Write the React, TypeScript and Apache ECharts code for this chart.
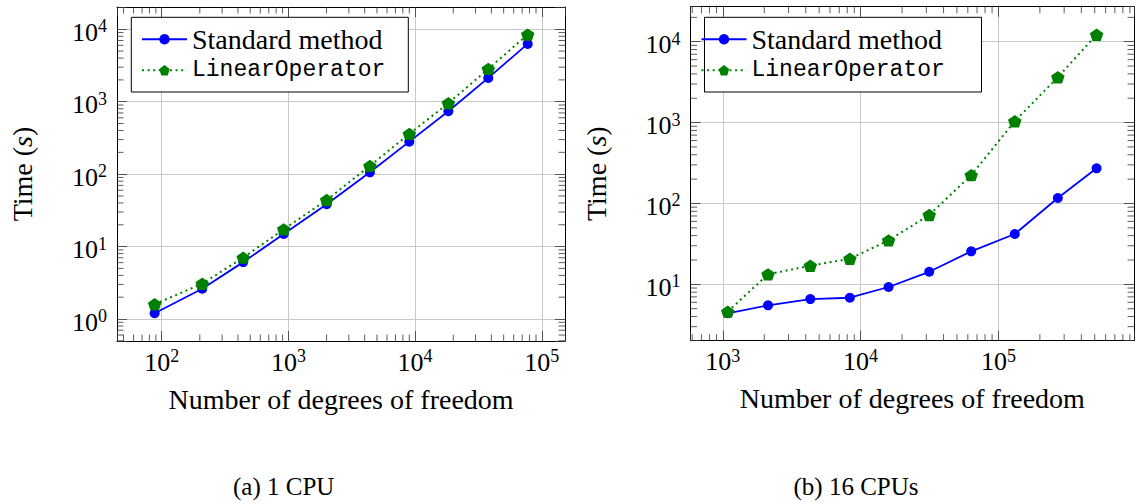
import React, { useEffect, useRef } from 'react';
import * as echarts from 'echarts';

// ---- data ----
const dofCpu1 = [88, 209, 440, 918, 2005, 4400, 9000, 18300, 37800, 77400];
const standardCpu1 = [1.2, 2.62, 6.1, 14.9, 38.4, 106, 281, 739, 2133, 6280];
const linopCpu1 = [1.6, 3.07, 7.03, 17.3, 44, 130, 359, 953, 2838, 8450];

const dofCpu16 = [1086, 2130, 4316, 8360, 15960, 31480, 63500, 131500, 270000, 516000];
const standardCpu16 = [4.39, 5.5, 6.58, 6.83, 9.27, 14.3, 25.6, 41.9, 116.7, 272];
const linopCpu16 = [4.6, 13.3, 17, 20.7, 35, 72, 224, 1040, 3640, 12200];

const xRangeCpu1 = [44.4, 152400];
const yRangeCpu1 = [0.497, 20300];
const xRangeCpu16 = [583, 964000];
const yRangeCpu16 = [2.01, 27100];

const seriesNames = ['Standard method', 'LinearOperator'];
const captions = ['(a) 1 CPU', '(b) 16 CPUs'];
const xAxisName = 'Number of degrees of freedom';
const yAxisName = 'Time ({i|s})';

const SERIF = 'Liberation Serif';
const MONO = 'Liberation Mono';
const BLUE = '#0000ff';
const GREEN = '#008000';
const PENTAGON = 'path://M0,-1L0.951,-0.309L0.588,0.809L-0.588,0.809L-0.951,-0.309Z';

function minorValues(range: number[]): number[] {
  const out: number[] = [];
  const k0 = Math.floor(Math.log10(range[0]));
  const k1 = Math.ceil(Math.log10(range[1]));
  for (let k = k0; k <= k1; k++) {
    for (let m = 2; m <= 9; m++) {
      const v = m * Math.pow(10, k);
      if (v > range[0] && v < range[1]) out.push(v);
    }
  }
  return out;
}

function powLabel(v: number): string {
  const e = Math.log10(v);
  const r = Math.round(e);
  if (Math.abs(e - r) > 1e-6) return '';
  return `{b|10}{s|${r}}`;
}

const labelRich = {
  b: { fontFamily: SERIF, fontSize: 26, color: '#000', lineHeight: 30, verticalAlign: 'middle' },
  s: { fontFamily: SERIF, fontSize: 18, color: '#000', lineHeight: 18, verticalAlign: 'top' },
};

const tickStyle = { color: '#333', width: 0.8 };
const MAJOR = 10;
const MINOR = 6.5;

function axesFor(gridIndex: number, xr: number[], yr: number[]) {
  const xBottom = {
    type: 'log', gridIndex, min: xr[0], max: xr[1], position: 'bottom',
    axisLine: { show: true, lineStyle: { color: '#000', width: 1 } },
    axisTick: { show: true, inside: true, length: MAJOR, lineStyle: tickStyle },
    axisLabel: { formatter: powLabel, rich: labelRich, margin: 6, showMinLabel: true, showMaxLabel: true },
    splitLine: { show: true, lineStyle: { color: '#c8c8c8', width: 1 } },
    name: xAxisName, nameLocation: 'middle', nameGap: 58,
    nameTextStyle: { fontFamily: SERIF, fontSize: 28, color: '#000', verticalAlign: 'middle' },
  };
  const xTop = {
    type: 'log', gridIndex, min: xr[0], max: xr[1], position: 'top',
    axisLine: { show: true, lineStyle: { color: '#000', width: 1 } },
    axisTick: { show: true, inside: true, length: MAJOR, lineStyle: tickStyle },
    axisLabel: { show: false }, splitLine: { show: false },
  };
  const yLeft = {
    type: 'log', gridIndex, min: yr[0], max: yr[1], position: 'left',
    axisLine: { show: true, lineStyle: { color: '#000', width: 1 } },
    axisTick: { show: true, inside: true, length: MAJOR, lineStyle: tickStyle },
    axisLabel: { formatter: powLabel, rich: labelRich, margin: 10, padding: [6, 0, 0, 0] },
    splitLine: { show: true, lineStyle: { color: '#c8c8c8', width: 1 } },
    name: yAxisName, nameLocation: 'middle', nameGap: 94.5, nameRotate: 90,
    nameTextStyle: {
      fontFamily: SERIF, fontSize: 28, color: '#000', verticalAlign: 'middle',
      rich: { i: { fontFamily: SERIF, fontSize: 28, fontStyle: 'italic', color: '#000' } },
    },
  };
  const yRight = {
    type: 'log', gridIndex, min: yr[0], max: yr[1], position: 'right',
    axisLine: { show: true, lineStyle: { color: '#000', width: 1 } },
    axisTick: { show: true, inside: true, length: MAJOR, lineStyle: tickStyle },
    axisLabel: { show: false }, splitLine: { show: false },
  };
  return { x: [xBottom, xTop], y: [yLeft, yRight] };
}

function minorTickSeries(axisIndex: number, xr: number[], yr: number[]) {
  const data: number[][] = [];
  minorValues(xr).forEach((v) => data.push([v, yr[0], 0]));
  minorValues(yr).forEach((v) => data.push([xr[0], v, 1]));
  return {
    type: 'custom', xAxisIndex: axisIndex, yAxisIndex: axisIndex, silent: true, z: 3, clip: false,
    dimensions: ['x', 'y', 'k'], encode: { x: 0, y: 1 },
    data,
    renderItem: (_p: any, api: any) => {
      const k = api.value(2);
      const ls = { stroke: tickStyle.color, lineWidth: tickStyle.width };
      if (k === 0) {
        const v = api.value(0);
        const a = api.coord([v, yr[0]]);
        const b = api.coord([v, yr[1]]);
        return {
          type: 'group', children: [
            { type: 'line', shape: { x1: a[0], y1: a[1], x2: a[0], y2: a[1] - MINOR }, style: ls },
            { type: 'line', shape: { x1: b[0], y1: b[1], x2: b[0], y2: b[1] + MINOR }, style: ls },
          ],
        };
      }
      const v = api.value(1);
      const a = api.coord([xr[0], v]);
      const b = api.coord([xr[1], v]);
      return {
        type: 'group', children: [
          { type: 'line', shape: { x1: a[0], y1: a[1], x2: a[0] + MINOR, y2: a[1] }, style: ls },
          { type: 'line', shape: { x1: b[0], y1: b[1], x2: b[0] - MINOR, y2: b[1] }, style: ls },
        ],
      };
    },
  };
}

function lineSeries(axisIndex: number, xs: number[], std: number[], lin: number[]) {
  return [
    {
      type: 'line', name: seriesNames[0], xAxisIndex: axisIndex, yAxisIndex: axisIndex,
      data: xs.map((x, i) => [x, std[i]]),
      symbol: 'circle', symbolSize: 10,
      lineStyle: { color: BLUE, width: 1.8 }, itemStyle: { color: BLUE }, z: 4,
    },
    {
      type: 'line', name: seriesNames[1], xAxisIndex: axisIndex, yAxisIndex: axisIndex,
      data: xs.map((x, i) => [x, lin[i]]),
      symbol: PENTAGON, symbolKeepAspect: true, symbolSize: [13.5, 13],
      lineStyle: { color: GREEN, width: 2, type: [2, 3.6] }, itemStyle: { color: GREEN }, z: 5,
    },
  ];
}

function legendFor(left: number, top: number) {
  return {
    orient: 'vertical', left, top, padding: 0, itemGap: 0, itemWidth: 45, itemHeight: 13,
    selectedMode: false, z: 10,
    data: [
      { name: seriesNames[0], textStyle: { fontFamily: SERIF, fontSize: 28, lineHeight: 31, color: '#000' } },
      { name: seriesNames[1], textStyle: { fontFamily: MONO, fontSize: 23, lineHeight: 31, color: '#000' } },
    ],
  };
}

export default function App() {
  const ref = useRef<HTMLDivElement>(null);
  useEffect(() => {
    if (!ref.current) return;
    const chart = echarts.init(ref.current, undefined, { renderer: 'svg' });
    const a1 = axesFor(0, xRangeCpu1, yRangeCpu1);
    const a2 = axesFor(1, xRangeCpu16, yRangeCpu16);
    const option: any = {
      animation: false,
      backgroundColor: '#fff',
      textStyle: { fontFamily: SERIF },
      grid: [
        { left: 117, top: 7, width: 448, height: 334 },
        { left: 690.5, top: 6.7, width: 448, height: 334 },
      ],
      xAxis: [...a1.x, ...a2.x],
      yAxis: [...a1.y, ...a2.y],
      legend: [legendFor(141, 23.8), legendFor(700.5, 23.8)],
      series: [
        minorTickSeries(0, xRangeCpu1, yRangeCpu1),
        ...lineSeries(0, dofCpu1, standardCpu1, linopCpu1),
        minorTickSeries(2, xRangeCpu16, yRangeCpu16),
        ...lineSeries(2, dofCpu16, standardCpu16, linopCpu16),
      ],
      graphic: [
        { type: 'rect', z: 8, shape: { x: 131.3, y: 17.3, width: 277, height: 74.7 }, style: { fill: '#fff', stroke: '#000', lineWidth: 1 } },
        { type: 'rect', z: 8, shape: { x: 704.5, y: 17.3, width: 277, height: 74.7 }, style: { fill: '#fff', stroke: '#000', lineWidth: 1 } },
        { type: 'text', z: 8, x: 283.7, y: 486.5, style: { text: captions[0], fontFamily: SERIF, fontSize: 25, fill: '#000', align: 'center', verticalAlign: 'middle' } },
        { type: 'text', z: 8, x: 856, y: 486.5, style: { text: captions[1], fontFamily: SERIF, fontSize: 25, fill: '#000', align: 'center', verticalAlign: 'middle' } },
      ],
    };
    chart.setOption(option);
    return () => chart.dispose();
  }, []);
  return <div ref={ref} style={{ position: 'fixed', left: 0, top: 0, width: 1137, height: 504 }} />;
}
